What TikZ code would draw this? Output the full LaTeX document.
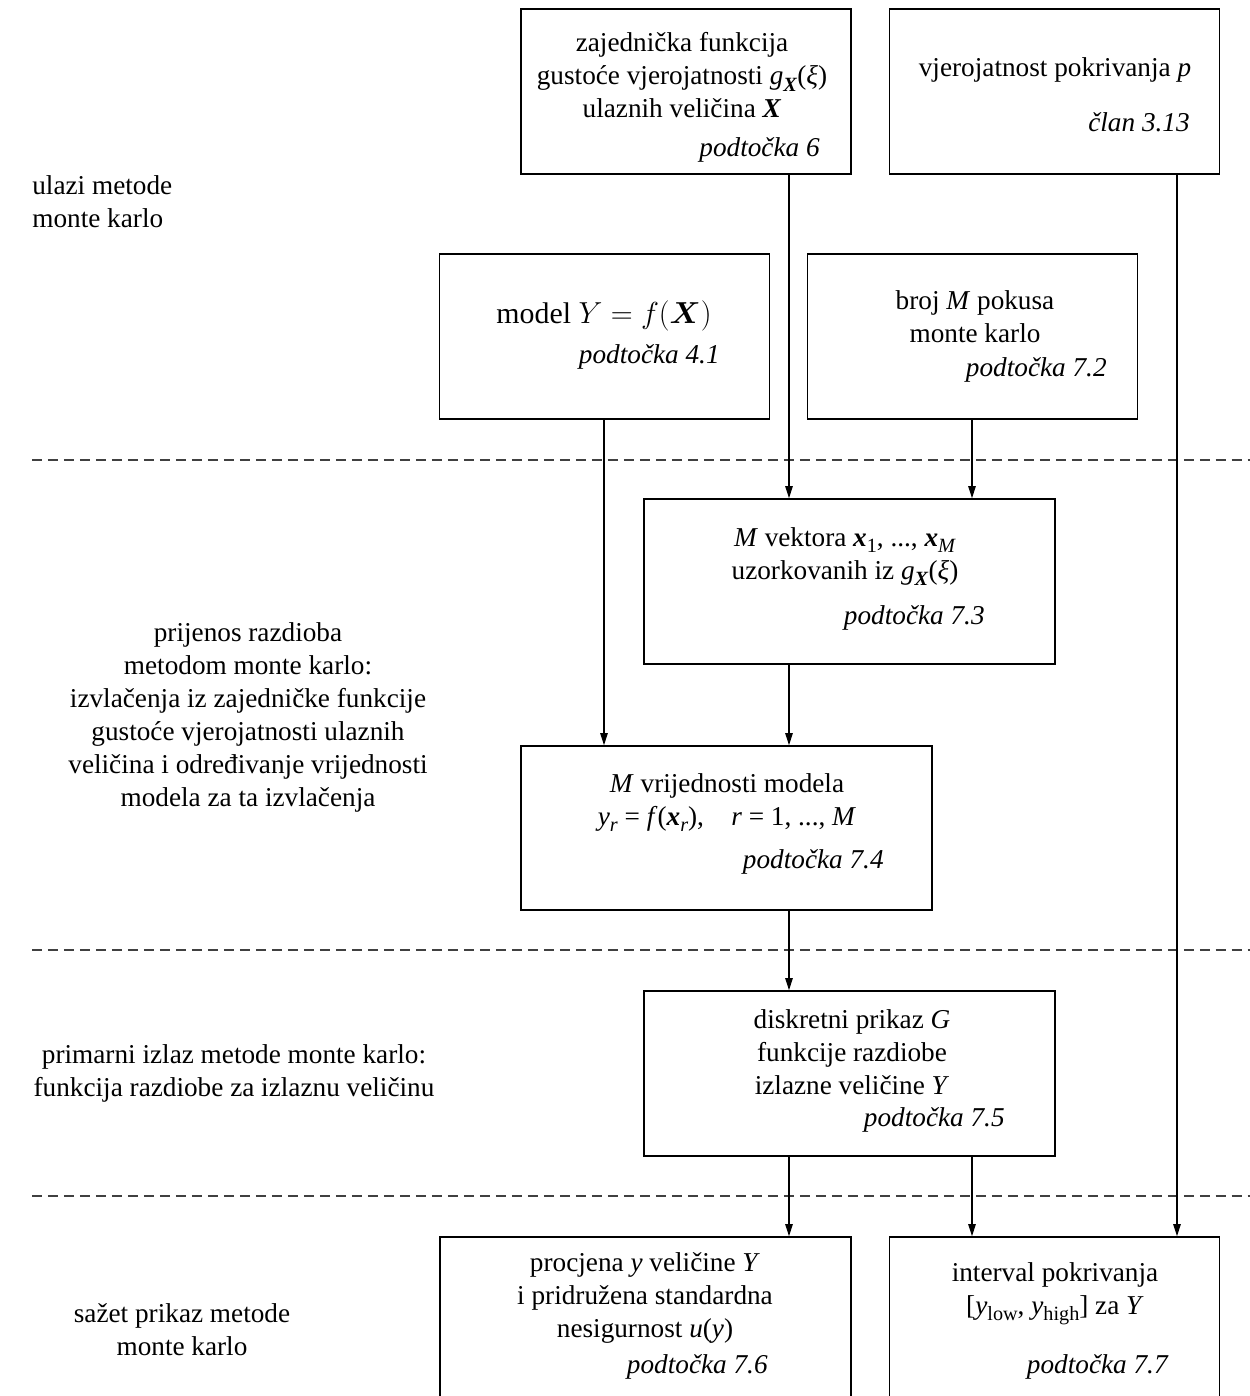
\documentclass[tikz,border=0pt]{standalone}
\usepackage{amsmath}
\usepackage{fontspec}
\setmainfont{Liberation Serif}
\usetikzlibrary{arrows.meta}

\newcommand{\diagfont}{\fontsize{15.5}{18.8}\selectfont}
\newcommand{\idx}[1]{\raisebox{-0.5ex}{\fontsize{11.5}{12}\selectfont #1}}
\tikzset{
  box/.style={draw, line width=1pt, minimum width=6.6cm, minimum height=3.3cm, inner sep=0pt},
  wide/.style={minimum width=8.22cm},
  txt/.style={align=center, inner sep=0pt},
  ref/.style={font=\diagfont\itshape, anchor=east, inner sep=0pt},
  sep/.style={dashed, dash pattern=on 0.2cm off 0.12cm, line width=0.9pt, black!75},
  arr/.style={-{Triangle[length=0.24cm,width=0.15cm]}, line width=0.6pt}
}

\begin{document}
\begin{tikzpicture}[x=0.02cm, y=-0.02cm, font=\diagfont]
    \path[use as bounding box, clip] (0,0) rectangle (1250,1396);
    % columns of the connectors
    \coordinate (c1) at (789,0);
    \coordinate (c2) at (972,0);
    \coordinate (c3) at (1177,0);
    \coordinate (c4) at (604,0);
    % separators between stages
    \foreach \y in {460,950,1196} {
      \draw[sep] (32,\y) -- (1250,\y);
    }
    % inputs
    \node[box] (density) at (686,91.5) {};
    \node[txt] (densityT) at (682,75.5) {zajednička funkcija\\gustoće vjerojatnosti \textit{g}\idx{\textbf{\textit{X}}}(\textit{ξ})\\ulaznih veličina \textbf{\textit{X}}};
    \node[ref] (densityR) at (820,150) {podtočka 6};
    \node[box] (prob) at (1054.5,91.5) {};
    \node[txt] (probT) at (1055,70) {vjerojatnost pokrivanja \textit{p}};
    \node[ref] (probR) at (1190,122) {član 3.13};
    \node[box] (model) at (604.5,336.5) {};
    \node[txt, font=\fontsize{17}{20}\selectfont] (modelT) at (604,316) {model $Y = f(\boldsymbol{X})$};
    \node[ref] (modelR) at (720,357) {podtočka 4.1};
    \node[box] (trials) at (972.5,336.5) {};
    \node[txt] (trialsT) at (975,316.5) {broj \textit{M} pokusa\\monte karlo};
    \node[ref] (trialsR) at (1107,370) {podtočka 7.2};
    % propagation
    \node[box, wide] (vectors) at (849.5,581.5) {};
    \node[txt] (vectorsT) at (845,556.5) {\textit{M} vektora \textbf{\textit{x}}\idx{1}, ..., \textbf{\textit{x}}\idx{\textit{M}}\\uzorkovanih iz \textit{g}\idx{\textbf{\textit{X}}}(\textit{ξ})};
    \node[ref] (vectorsR) at (985,618) {podtočka 7.3};
    \node[box, wide, minimum height=3.28cm] (values) at (726.5,828) {};
    \node[txt] (valuesT) at (727,802.5) {\textit{M} vrijednosti modela\\\textit{y}\idx{\textit{r}} = \textit{f}(\textbf{\textit{x}}\idx{\textit{r}}),\quad\textit{r} = 1, ..., \textit{M}};
    \node[ref] (valuesR) at (884,862) {podtočka 7.4};
    % primary output
    \node[box, wide] (distrib) at (849.5,1073.5) {};
    \node[txt] (distribT) at (852,1052.5) {diskretni prikaz \textit{G}\\funkcije razdiobe\\izlazne veličine \textit{Y}};
    \node[ref] (distribR) at (1005,1120) {podtočka 7.5};
    % summary
    \node[box, wide] (estimate) at (645.5,1319.5) {};
    \node[txt] (estimateT) at (645,1298) {procjena \textit{y} veličine \textit{Y}\\i pridružena standardna\\nesigurnost \textit{u}(\textit{y})};
    \node[ref] (estimateR) at (768,1367) {podtočka 7.6};
    \node[box] (interval) at (1054.5,1319.5) {};
    \node[txt] (intervalT) at (1055,1293.5) {interval pokrivanja\\{}[\textit{y}\idx{low}, \textit{y}\idx{high}] za \textit{Y}};
    \node[ref] (intervalR) at (1168,1367) {podtočka 7.7};
    % stage labels on the left
    \node[txt, anchor=west, align=left] (stage1) at (32,202) {ulazi metode\\monte karlo};
    \node[txt] (stage2) at (248,717.5) {prijenos razdioba\\metodom monte karlo:\\izvlačenja iz zajedničke funkcije\\gustoće vjerojatnosti ulaznih\\veličina i određivanje vrijednosti\\modela za ta izvlačenja};
    \node[txt] (stage3) at (234,1073) {primarni izlaz metode monte karlo:\\funkcija razdiobe za izlaznu veličinu};
    \node[txt] (stage4) at (182,1330) {sažet prikaz metode\\monte karlo};
    % connectors
    \draw[arr] (density.south -| c1) -- (vectors.north -| c1);
    \draw[arr] (trials.south -| c2) -- (vectors.north -| c2);
    \draw[arr] (model.south -| c4) -- (values.north -| c4);
    \draw[arr] (vectors.south -| c1) -- (values.north -| c1);
    \draw[arr] (values.south -| c1) -- (distrib.north -| c1);
    \draw[arr] (distrib.south -| c1) -- (estimate.north -| c1);
    \draw[arr] (distrib.south -| c2) -- (interval.north -| c2);
    \draw[arr] (prob.south -| c3) -- (interval.north -| c3);
\end{tikzpicture}
\end{document}
